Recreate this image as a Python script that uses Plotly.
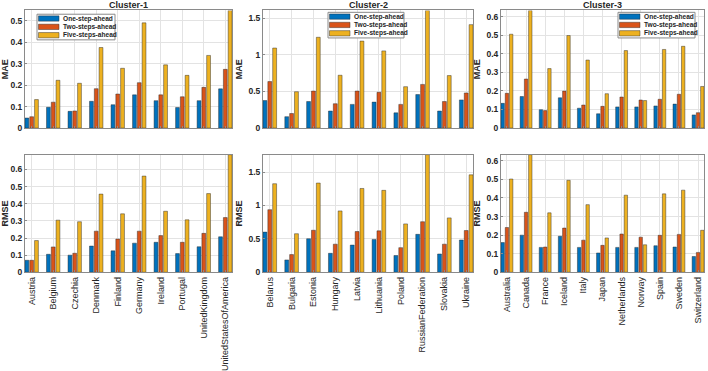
import plotly.graph_objects as go

series_names = ["One-step-ahead", "Two-steps-ahead", "Five-steps-ahead"]
colors = ["#0072BD", "#D95319", "#EDB120"]

c1_countries = ["Austria", "Belgium", "Czechia", "Denmark", "Finland", "Germany",
                "Ireland", "Portugal", "UnitedKingdom", "UnitedStatesOfAmerica"]
c2_countries = ["Belarus", "Bulgaria", "Estonia", "Hungary", "Latvia", "Lithuania",
                "Poland", "RussianFederation", "Slovakia", "Ukraine"]
c3_countries = ["Australia", "Canada", "France", "Iceland", "Italy", "Japan",
                "Netherlands", "Norway", "Spain", "Sweden", "Switzerland"]

c1_mae_one = [0.047, 0.097, 0.078, 0.125, 0.109, 0.155, 0.128, 0.096, 0.128, 0.183]
c1_mae_two = [0.053, 0.121, 0.080, 0.184, 0.159, 0.212, 0.155, 0.146, 0.190, 0.274]
c1_mae_five = [0.133, 0.223, 0.209, 0.376, 0.279, 0.491, 0.295, 0.246, 0.339, 0.549]

c2_mae_one = [0.376, 0.156, 0.363, 0.233, 0.324, 0.355, 0.208, 0.458, 0.233, 0.385]
c2_mae_two = [0.636, 0.199, 0.506, 0.333, 0.506, 0.489, 0.324, 0.597, 0.363, 0.480]
c2_mae_five = [1.094, 0.497, 1.241, 0.722, 1.189, 1.055, 0.566, 1.608, 0.718, 1.414]

c3_mae_one = [0.133, 0.170, 0.099, 0.163, 0.107, 0.077, 0.114, 0.114, 0.119, 0.129, 0.071]
c3_mae_two = [0.187, 0.264, 0.094, 0.199, 0.124, 0.117, 0.167, 0.151, 0.155, 0.182, 0.083]
c3_mae_five = [0.505, 0.633, 0.320, 0.498, 0.366, 0.185, 0.417, 0.148, 0.423, 0.440, 0.224]

c1_rmse_one = [0.070, 0.105, 0.100, 0.153, 0.125, 0.170, 0.175, 0.109, 0.149, 0.207]
c1_rmse_two = [0.070, 0.148, 0.111, 0.240, 0.194, 0.240, 0.214, 0.175, 0.227, 0.319]
c1_rmse_five = [0.185, 0.304, 0.295, 0.456, 0.341, 0.561, 0.356, 0.306, 0.459, 0.686]

c2_rmse_one = [0.601, 0.185, 0.502, 0.284, 0.407, 0.492, 0.251, 0.568, 0.274, 0.483]
c2_rmse_two = [0.937, 0.265, 0.629, 0.421, 0.610, 0.620, 0.369, 0.757, 0.421, 0.625]
c2_rmse_five = [1.325, 0.577, 1.335, 0.918, 1.254, 1.226, 0.724, 1.760, 0.814, 1.458]

c3_rmse_one = [0.160, 0.200, 0.134, 0.194, 0.134, 0.104, 0.134, 0.134, 0.143, 0.136, 0.085]
c3_rmse_two = [0.241, 0.323, 0.136, 0.238, 0.173, 0.145, 0.206, 0.189, 0.199, 0.204, 0.107]
c3_rmse_five = [0.502, 0.633, 0.320, 0.495, 0.364, 0.185, 0.415, 0.148, 0.422, 0.442, 0.226]

titles = ["Cluster-1", "Cluster-2", "Cluster-3"]

W, H = 708, 371
FONT = "Liberation Sans, Arial, sans-serif"
AXC = "#8a8a8a"
TXT = "#262626"

panels = [
    (0, 0, c1_countries, [c1_mae_one, c1_mae_two, c1_mae_five], "MAE", 0.1),
    (0, 1, c2_countries, [c2_mae_one, c2_mae_two, c2_mae_five], "MAE", 0.5),
    (0, 2, c3_countries, [c3_mae_one, c3_mae_two, c3_mae_five], "MAE", 0.1),
    (1, 0, c1_countries, [c1_rmse_one, c1_rmse_two, c1_rmse_five], "RMSE", 0.1),
    (1, 1, c2_countries, [c2_rmse_one, c2_rmse_two, c2_rmse_five], "RMSE", 0.5),
    (1, 2, c3_countries, [c3_rmse_one, c3_rmse_two, c3_rmse_five], "RMSE", 0.1),
]

col_px = [(25, 232), (263, 473), (501, 704)]
row_px = [(11, 135), (163, 287)]

fig = go.Figure()

for i, (r, c, cats, series, ytitle, dtick) in enumerate(panels):
    n = i + 1
    xa = "x" if n == 1 else f"x{n}"
    ya = "y" if n == 1 else f"y{n}"
    for s, vals in enumerate(series):
        fig.add_trace(go.Bar(
            x=cats, y=vals, name=series_names[s],
            marker=dict(color=colors[s], line=dict(color="rgba(40,40,40,0.75)", width=0.6)),
            xaxis=xa, yaxis=ya, showlegend=False, offsetgroup=str(s),
        ))
    ymax = max(max(v) for v in series)
    x0, x1 = col_px[c]
    y0, y1 = row_px[r]
    xkey = "xaxis" if n == 1 else f"xaxis{n}"
    ykey = "yaxis" if n == 1 else f"yaxis{n}"
    fig.layout[xkey] = dict(
        domain=[x0 / W, x1 / W], anchor=ya, type="category",
        range=[-0.311, len(cats) - 1 + 0.311], autorange=False,
        showticklabels=(r == 1), tickangle=-90,
        tickfont=dict(family=FONT, size=9, color=TXT),
        showgrid=True, gridcolor="#e3e3e3", gridwidth=1,
        showline=True, linecolor=AXC, linewidth=1, mirror=True,
        ticks="inside", ticklen=2, tickcolor=AXC,
        zeroline=False, fixedrange=True,
    )
    fig.layout[ykey] = dict(
        domain=[1 - y1 / H, 1 - y0 / H], anchor=xa,
        range=[0, ymax], autorange=False, dtick=dtick, tick0=0,
        title=dict(text=f"<b>{ytitle}</b>", font=dict(family=FONT, size=9, color=TXT), standoff=4),
        tickfont=dict(family=FONT, size=8.5, color=TXT, weight="bold"),
        showgrid=True, gridcolor="#e3e3e3", gridwidth=1,
        showline=True, linecolor=AXC, linewidth=1, mirror=True,
        ticks="inside", ticklen=2, tickcolor=AXC,
        zeroline=False, fixedrange=True,
    )

for c in range(3):
    x0, x1 = col_px[c]
    fig.add_annotation(text=f"<b>{titles[c]}</b>", x=(x0 + x1) / 2 / W, y=1 - 5.5 / H,
                       xref="paper", yref="paper", showarrow=False,
                       font=dict(family=FONT, size=9, color=TXT),
                       xanchor="center", yanchor="middle")

# hand-drawn compact legends (MATLAB style), one per top panel
legend_boxes = [(37, 15, 115, 42), (328, 13, 404, 40), (618, 13, 695, 40)]
for (bx0, by0, bx1, by1) in legend_boxes:
    fig.add_shape(type="rect", xref="paper", yref="paper",
                  x0=bx0 / W, x1=bx1 / W, y0=1 - by1 / H, y1=1 - by0 / H,
                  line=dict(color=AXC, width=1), fillcolor="white", layer="above")
    for s, name in enumerate(series_names):
        cy = by0 + 4.5 + s * 8.8
        fig.add_shape(type="rect", xref="paper", yref="paper",
                      x0=(bx0 + 1.5) / W, x1=(bx0 + 22) / W,
                      y0=1 - (cy + 2.8) / H, y1=1 - (cy - 2.8) / H,
                      line=dict(color="rgba(40,40,40,0.75)", width=0.6),
                      fillcolor=colors[s], layer="above")
        fig.add_annotation(text=f"<b>{name}</b>", x=(bx0 + 23.5) / W, y=1 - cy / H,
                           xref="paper", yref="paper", showarrow=False,
                           xanchor="left", yanchor="middle",
                           font=dict(family=FONT, size=6.6, color=TXT))

fig.update_layout(
    width=W, height=H, autosize=False,
    margin=dict(l=0, r=0, t=0, b=0),
    paper_bgcolor="white", plot_bgcolor="white",
    barmode="group", bargap=0.333, bargroupgap=0.2,
    showlegend=False,
)

fig.write_html("out.html", config={"displayModeBar": False},
               post_script="document.body.style.margin='0px';")
